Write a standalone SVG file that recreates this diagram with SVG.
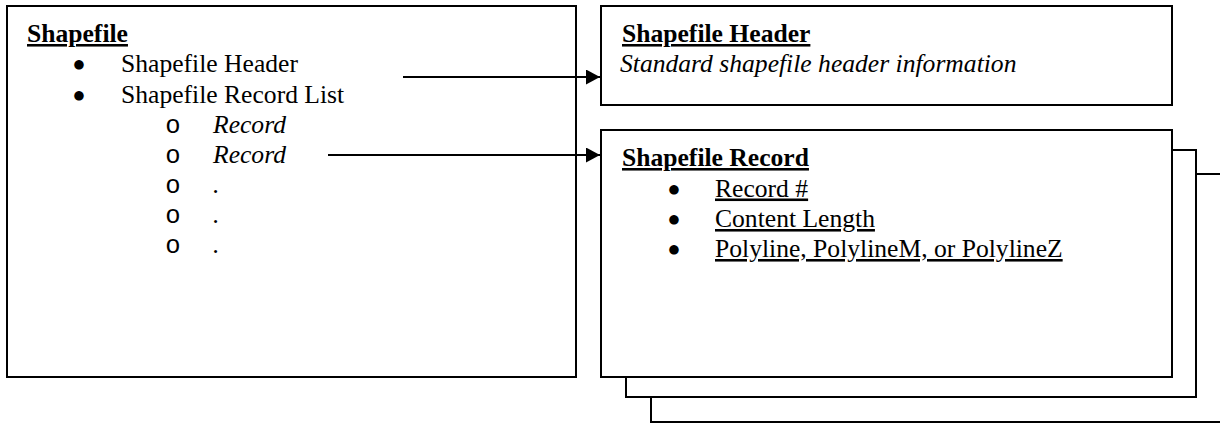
<svg xmlns="http://www.w3.org/2000/svg" width="1220" height="423" viewBox="0 0 1220 423">
<style>
  .box { fill: #fff; stroke: #000; stroke-width: 2; }
  .t { font-family: "Liberation Serif", "Times New Roman", serif; font-size: 25.6px; fill: #000; }
  .b { font-weight: bold; text-decoration: underline; }
  .i { font-style: italic; }
  .u { text-decoration: underline; }
  .bul { font-family: "DejaVu Sans", sans-serif; font-size: 12.5px; text-anchor: middle; }
  .sub { font-family: "Liberation Mono", "Courier New", monospace; font-size: 25.6px; text-anchor: middle; }
  .conn { stroke: #000; stroke-width: 2; fill: none; }
</style>
<defs>
  <marker id="arrow" markerUnits="userSpaceOnUse" markerWidth="14" markerHeight="15" refX="14" refY="7.5" orient="auto">
    <path d="M0,0 L14,7.5 L0,15 z" fill="#000"/>
  </marker>
</defs>
<rect width="1220" height="423" fill="#fff"/>

<g id="node-shapefile">
  <rect class="box" x="7" y="6" width="569" height="371"/>
  <text class="t b" x="27" y="42">Shapefile</text>
  <text class="bul" x="79" y="68">●</text>
  <text class="t" x="121" y="72">Shapefile Header</text>
  <text class="bul" x="79" y="98.5">●</text>
  <text class="t" x="121" y="102.5">Shapefile Record List</text>
  <text class="sub" x="173" y="133">o</text>
  <text class="t i" x="213" y="133">Record</text>
  <text class="sub" x="173" y="163">o</text>
  <text class="t i" x="213" y="163">Record</text>
  <text class="sub" x="173" y="193">o</text>
  <text class="t i" x="213" y="193">.</text>
  <text class="sub" x="173" y="223">o</text>
  <text class="t i" x="213" y="223">.</text>
  <text class="sub" x="173" y="253">o</text>
  <text class="t i" x="213" y="253">.</text>
</g>

<g id="node-header">
  <rect class="box" x="601" y="6" width="571" height="99"/>
  <text class="t b" x="622" y="42">Shapefile Header</text>
  <text class="t i" x="620" y="72">Standard shapefile header information</text>
</g>

<g id="node-record">
  <rect class="box" x="651" y="174" width="580" height="248"/>
  <rect class="box" x="626" y="150" width="570" height="247"/>
  <rect class="box" x="601" y="130" width="571" height="247"/>
  <text class="t b" x="622" y="166">Shapefile Record</text>
  <text class="bul" x="674" y="192.5">●</text>
  <text class="t u" x="715" y="196.5">Record #</text>
  <text class="bul" x="674" y="223">●</text>
  <text class="t u" x="715" y="227">Content Length</text>
  <text class="bul" x="674" y="253">●</text>
  <text class="t u" x="715" y="257">Polyline, PolylineM, or PolylineZ</text>
</g>

<g id="connectors">
  <line class="conn" x1="403" y1="77" x2="600" y2="77" marker-end="url(#arrow)"/>
  <line class="conn" x1="328" y1="155" x2="600" y2="155" marker-end="url(#arrow)"/>
</g>
</svg>
